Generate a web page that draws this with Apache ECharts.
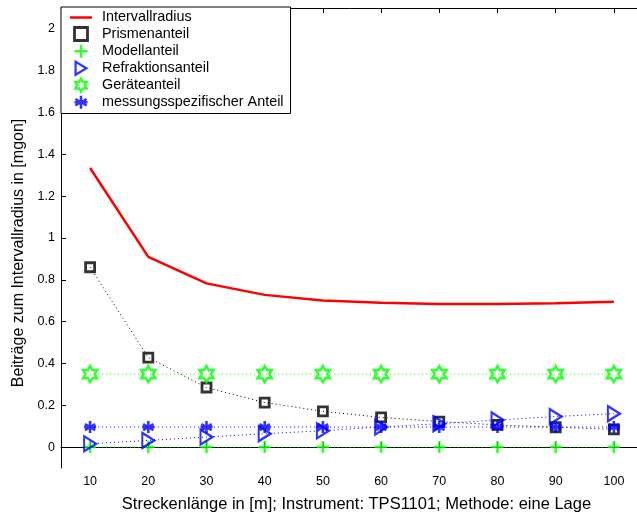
<!DOCTYPE html>
<html>
<head>
<meta charset="utf-8">
<script src="https://cdn.jsdelivr.net/npm/echarts@6/dist/echarts.min.js"></script>
<style>
  html, body { margin: 0; padding: 0; background: #fff; }
  #chart { width: 637px; height: 515px; }
</style>
</head>
<body>
<div id="chart"></div>
<script>
// Distance categories (m)
var distances = ['10', '20', '30', '40', '50', '60', '70', '80', '90', '100'];

// Contributions to the interval radius (mgon)
var intervallradius = [1.335, 0.910, 0.783, 0.728, 0.701, 0.690, 0.684, 0.684, 0.688, 0.695];
var prismenanteil = [0.860, 0.428, 0.285, 0.213, 0.171, 0.142, 0.122, 0.106, 0.095, 0.085];
var modellanteil = [0, 0, 0, 0, 0, 0, 0, 0, 0, 0];
var refraktionsanteil = [0.016, 0.032, 0.048, 0.064, 0.078, 0.096, 0.112, 0.130, 0.146, 0.160];
var geraeteanteil = [0.349, 0.349, 0.349, 0.349, 0.349, 0.349, 0.349, 0.349, 0.349, 0.349];
var messungsspezifisch = [0.096, 0.096, 0.096, 0.096, 0.096, 0.096, 0.096, 0.096, 0.096, 0.096];

// Y tick values
var yTicks = [0, 0.2, 0.4, 0.6, 0.8, 1, 1.2, 1.4, 1.6, 1.8, 2];

var FONT = "'Liberation Sans', Arial, Helvetica, sans-serif";

// Marker outlines
var SQUARE = 'path://M0,0 L1,0 L1,1 L0,1 Z';
var TRIANGLE_RIGHT = 'path://M0,0 L10,6 L0,12 Z';
var PLUS = 'path://M0,-1 L0,1 M-1,0 L1,0';
var ASTERISK = 'path://M0,-1 L0,1 M-0.866,-0.5 L0.866,0.5 M-0.866,0.5 L0.866,-0.5 M-1,0 L1,0';
var HEXAGRAM = 'path://M0,-1 L0.289,-0.5 L0.866,-0.5 L0.577,0 L0.866,0.5 L0.289,0.5 L0,1 L-0.289,0.5 L-0.866,0.5 L-0.577,0 L-0.866,-0.5 L-0.289,-0.5 Z';
var LINE_ICON = 'path://M0,0 L22,0 L22,2.5 L0,2.5 Z';

function dotted(name, data, color) {
  return {
    name: name,
    type: 'line',
    data: data,
    showSymbol: false,
    symbol: 'none',
    silent: true,
    z: 1,
    lineStyle: { color: color, width: 1, type: [1, 3] },
    emphasis: { disabled: true }
  };
}

function markers(name, data, symbol, size, color, width) {
  return {
    name: name,
    type: 'scatter',
    data: data,
    symbol: symbol,
    symbolSize: size,
    z: 3,
    itemStyle: { color: 'rgba(0,0,0,0)', borderColor: color, borderWidth: width },
    emphasis: { disabled: true }
  };
}

var chart = echarts.init(document.getElementById('chart'), null, { renderer: 'canvas' });

var axisLineStyle = { color: '#000', width: 1 };

chart.setOption({
  animation: false,
  backgroundColor: '#fff',
  textStyle: { fontFamily: FONT },
  grid: { left: 61, right: -6, top: 8, bottom: 47, outerBoundsMode: 'none', containLabel: false },
  legend: {
    data: [
      { name: 'Intervallradius', icon: LINE_ICON, itemStyle: { color: '#ff0000', borderWidth: 0 } },
      { name: 'Prismenanteil', itemStyle: { borderWidth: 2.8 } },
      { name: 'Modellanteil', itemStyle: { borderWidth: 2.5 } },
      { name: 'Refraktionsanteil', itemStyle: { borderWidth: 2.2 } },
      { name: 'Geräteanteil', itemStyle: { borderWidth: 2.5 } },
      { name: 'messungsspezifischer Anteil', itemStyle: { borderWidth: 2.5 } }
    ],
    orient: 'vertical',
    left: 61,
    top: 7,
    padding: [3.5, 7, 3.5, 9],
    itemGap: 1.6,
    itemWidth: 22,
    itemHeight: 13,
    backgroundColor: '#fff',
    borderColor: '#000',
    borderWidth: 1,
    borderRadius: 0,
    selectedMode: false,
    z: 10,
    textStyle: { fontFamily: FONT, fontSize: 14.4, color: '#000', lineHeight: 14, padding: [0, 0, 0, 5] }
  },
  xAxis: [{
    type: 'category',
    data: distances,
    boundaryGap: true,
    name: 'Streckenlänge in [m]; Instrument: TPS1101; Methode: eine Lage',
    nameLocation: 'middle',
    nameGap: 28,
    nameTextStyle: { fontFamily: FONT, fontSize: 16.5, color: '#000', padding: [0, 0, 0, 9] },
    axisLine: { show: true, lineStyle: axisLineStyle },
    axisTick: { show: true, inside: true, length: 5, alignWithLabel: true, lineStyle: { color: '#000' } },
    axisLabel: { fontFamily: FONT, fontSize: 12.5, color: '#000', margin: 7 },
    splitLine: { show: false }
  }, {
    type: 'category',
    data: distances,
    position: 'top',
    boundaryGap: true,
    axisLine: { show: true, lineStyle: axisLineStyle },
    axisTick: { show: true, inside: true, length: 5, alignWithLabel: true, lineStyle: { color: '#000' } },
    axisLabel: { show: false },
    splitLine: { show: false }
  }],
  yAxis: {
    type: 'value',
    min: -0.1,
    max: 2.1,
    name: 'Beiträge zum Intervallradius in [mgon]',
    nameLocation: 'middle',
    nameGap: 33,
    nameTextStyle: { fontFamily: FONT, fontSize: 16, color: '#000', padding: [0, 30, 0, 0] },
    axisLine: { show: true, lineStyle: axisLineStyle },
    axisTick: { show: true, inside: true, length: 5, customValues: yTicks, lineStyle: { color: '#000' } },
    axisLabel: {
      fontFamily: FONT, fontSize: 12.5, color: '#000', margin: 6,
      customValues: yTicks,
      formatter: function (v) { return String(Math.round(v * 10) / 10); }
    },
    splitLine: { show: false }
  },
  series: [
    dotted('Prismenanteil Verlauf', prismenanteil, '#000'),
    dotted('Modellanteil Verlauf', modellanteil, '#00ff00'),
    dotted('Refraktionsanteil Verlauf', refraktionsanteil, '#0000ff'),
    dotted('Geräteanteil Verlauf', geraeteanteil, '#00ff00'),
    dotted('messungsspezifischer Anteil Verlauf', messungsspezifisch, '#0000ff'),
    {
      name: 'Intervallradius',
      type: 'line',
      data: intervallradius,
      symbol: 'none',
      z: 2,
      lineStyle: { color: '#ff0000', width: 2.5 },
      itemStyle: { color: '#ff0000' },
      emphasis: { disabled: true }
    },
    markers('Prismenanteil', prismenanteil, SQUARE, 9, '#000', 2.8),
    markers('Modellanteil', modellanteil, PLUS, 12, '#00ff00', 2.5),
    markers('Refraktionsanteil', refraktionsanteil, TRIANGLE_RIGHT, [12, 15], '#0000ff', 2.2),
    markers('Geräteanteil', geraeteanteil, HEXAGRAM, [14, 16], '#00ff00', 2.6),
    markers('messungsspezifischer Anteil', messungsspezifisch, ASTERISK, 12, '#0000ff', 2.6)
  ]
});
</script>
</body>
</html>
